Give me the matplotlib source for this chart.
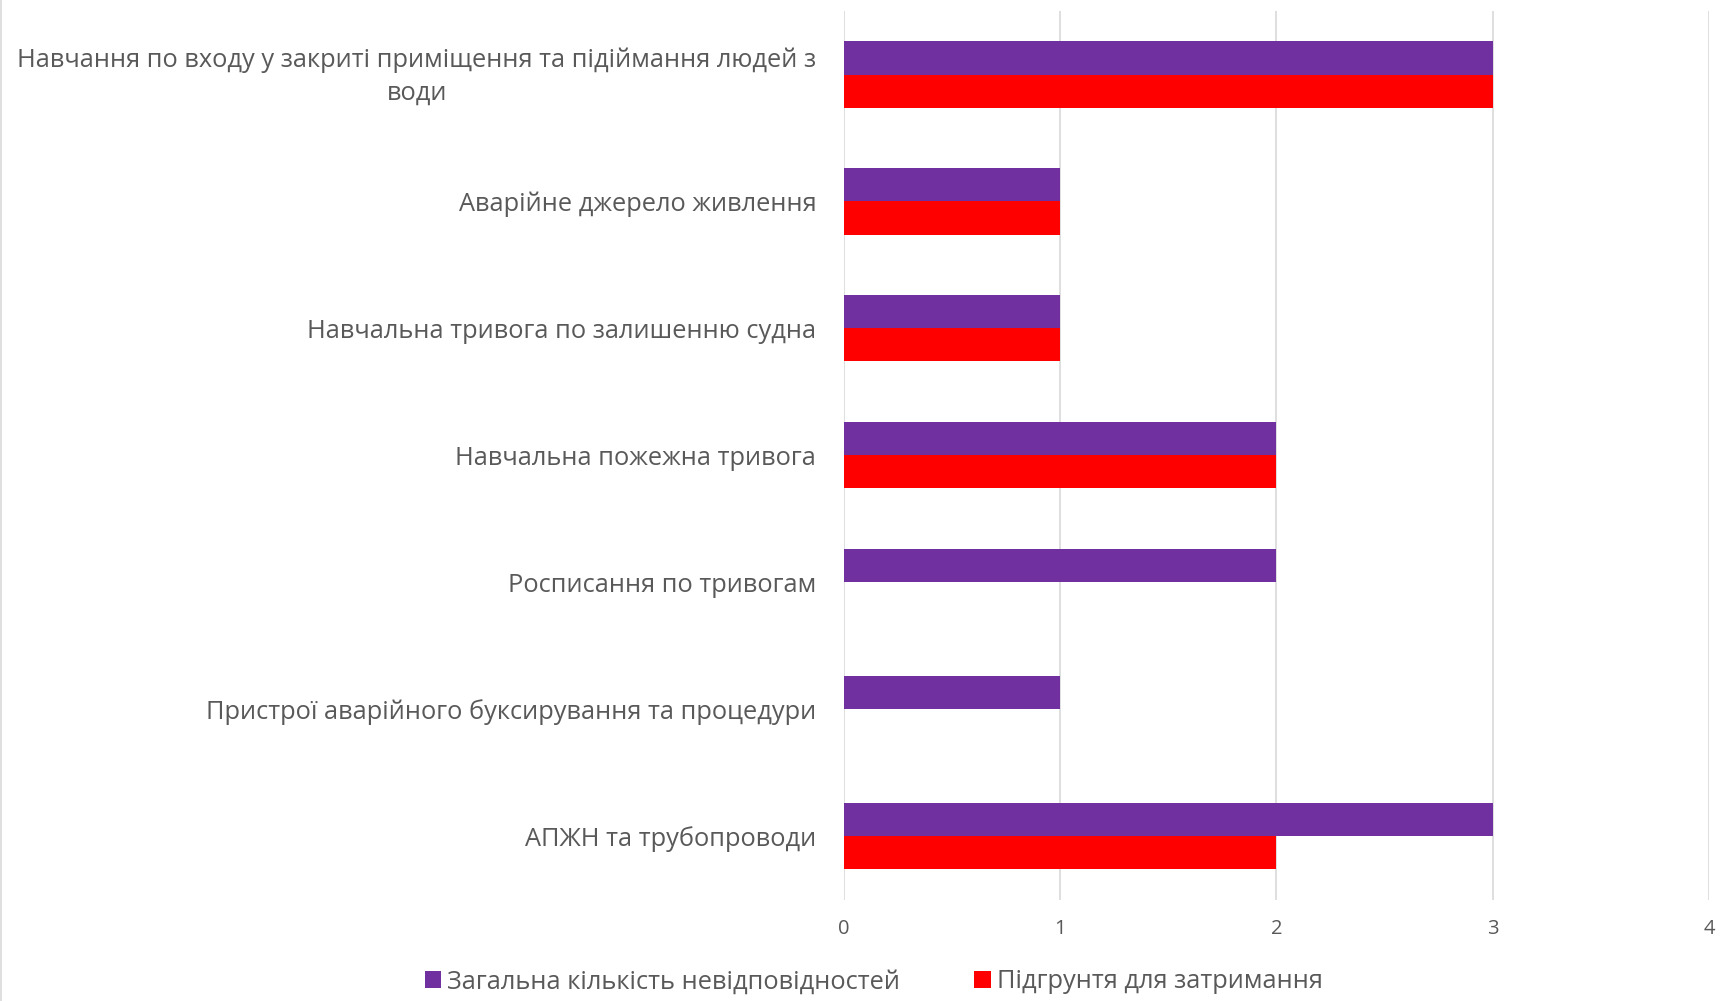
import matplotlib.pyplot as plt
import numpy as np
from matplotlib import font_manager
from matplotlib.lines import Line2D
from matplotlib.transforms import ScaledTranslation

categories = [
    "Навчання по входу у закриті приміщення та підіймання людей з\nводи",
    "Аварійне джерело живлення",
    "Навчальна тривога по залишенню судна",
    "Навчальна пожежна тривога",
    "Росписання по тривогам",
    "Пристрої аварійного буксирування та процедури",
    "АПЖН та трубопроводи",
]
total = [3, 1, 1, 2, 2, 1, 3]
detention = [3, 1, 1, 2, 0, 0, 2]
series_names = ["Загальна кількість невідповідностей", "Підгрунтя для затримання"]

names = {f.name for f in font_manager.fontManager.ttflist}
family = "Liberation Sans Narrow" if "Liberation Sans Narrow" in names else "Open Sans"
plt.rcParams["font.family"] = [family, "DejaVu Sans"]

text_color = "#595959"
fig = plt.figure(figsize=(17.2, 10.01), dpi=100)
ax = fig.add_axes([0.4907, 0.101, 0.5029, 0.888])

y = np.arange(len(categories))
h = 0.26
ax.barh(y - h / 2, total, height=h, color="#7030A0", label=series_names[0], zorder=3)
ax.barh(y + h / 2, detention, height=h, color="#FF0000", label=series_names[1], zorder=3)

ax.set_ylim(len(categories) - 0.5, -0.5)
ax.set_xlim(0, 4)
ax.set_xticks(range(5))
ax.set_yticks(y)
ax.set_yticklabels(categories, fontsize=18.3, color=text_color,
                   multialignment="center", linespacing=1.4)
ax.tick_params(axis="x", labelsize=14.5, labelcolor=text_color, length=0, pad=14)
ax.tick_params(axis="y", length=0, pad=20)
ax.grid(axis="x", color="#d9d9d9", linewidth=1.2, zorder=0)
for s in ax.spines.values():
    s.set_visible(False)

# nudge the two-line label up a little
first = ax.get_yticklabels()[0]
first.set_transform(first.get_transform() + ScaledTranslation(0, 0.05, fig.dpi_scale_trans))

fig.legend(loc="center", bbox_to_anchor=(0.508, 0.019), ncol=2, frameon=False,
           fontsize=18.3, labelcolor=text_color, handlelength=0.65, handleheight=0.65,
           handletextpad=0.25, columnspacing=2.9)

fig.add_artist(Line2D([0.0006, 0.0006], [0, 1], transform=fig.transFigure,
                      color="#d9d9d9", linewidth=1.2))

fig.savefig("out.png", dpi=100)
